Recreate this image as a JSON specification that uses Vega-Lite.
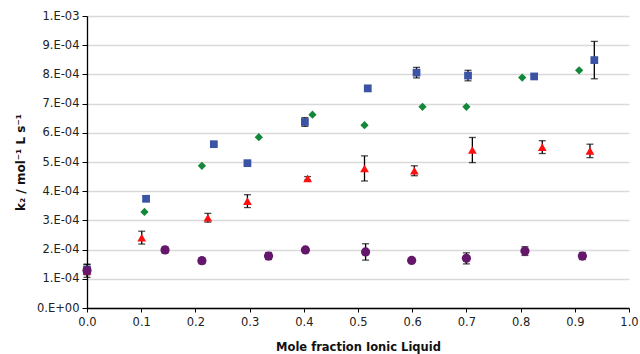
{
  "$schema": "https://vega.github.io/schema/vega-lite/v6.json",
  "width": 542,
  "height": 292,
  "autosize": "none",
  "padding": {"left": 87, "top": 16, "right": 11, "bottom": 46},
  "background": "white",
  "config": {
    "view": {"stroke": null},
    "font": "DejaVu Sans",
    "axis": {"labelFont": "DejaVu Sans", "titleFont": "DejaVu Sans", "labelColor": "#222222", "titleColor": "#111111"}
  },
  "data": {
    "values": [
      {"series": "A", "x": 0.0, "y": 0.000132, "err": 0.000018},
      {"series": "A", "x": 0.109, "y": 0.000374, "err": 0.000008},
      {"series": "A", "x": 0.234, "y": 0.000561, "err": 0.000005},
      {"series": "A", "x": 0.296, "y": 0.000496, "err": 0.000005},
      {"series": "A", "x": 0.402, "y": 0.000637, "err": 0.000015},
      {"series": "A", "x": 0.518, "y": 0.000752, "err": 0.000010},
      {"series": "A", "x": 0.608, "y": 0.000806, "err": 0.000018},
      {"series": "A", "x": 0.703, "y": 0.000796, "err": 0.000018},
      {"series": "A", "x": 0.825, "y": 0.000793, "err": 0.000005},
      {"series": "A", "x": 0.936, "y": 0.000849, "err": 0.000064},
      {"series": "B", "x": 0.0, "y": 0.000130, "err": 0.0},
      {"series": "B", "x": 0.106, "y": 0.000329, "err": 0.0},
      {"series": "B", "x": 0.212, "y": 0.000487, "err": 0.0},
      {"series": "B", "x": 0.317, "y": 0.000585, "err": 0.0},
      {"series": "B", "x": 0.416, "y": 0.000662, "err": 0.0},
      {"series": "B", "x": 0.512, "y": 0.000626, "err": 0.0},
      {"series": "B", "x": 0.619, "y": 0.000689, "err": 0.0},
      {"series": "B", "x": 0.700, "y": 0.000689, "err": 0.0},
      {"series": "B", "x": 0.803, "y": 0.000789, "err": 0.0},
      {"series": "B", "x": 0.908, "y": 0.000814, "err": 0.0},
      {"series": "D", "x": 0.0, "y": 0.000128, "err": 0.000010},
      {"series": "D", "x": 0.144, "y": 0.000199, "err": 0.000010},
      {"series": "D", "x": 0.212, "y": 0.000162, "err": 0.000010},
      {"series": "D", "x": 0.335, "y": 0.000178, "err": 0.000012},
      {"series": "D", "x": 0.403, "y": 0.000199, "err": 0.000006},
      {"series": "D", "x": 0.514, "y": 0.000192, "err": 0.000028},
      {"series": "D", "x": 0.599, "y": 0.000163, "err": 0.000004},
      {"series": "D", "x": 0.700, "y": 0.000170, "err": 0.000019},
      {"series": "D", "x": 0.808, "y": 0.000195, "err": 0.000015},
      {"series": "D", "x": 0.914, "y": 0.000178, "err": 0.000012},
      {"series": "C", "x": 0.0, "y": 0.000127, "err": 0.000022},
      {"series": "C", "x": 0.101, "y": 0.000241, "err": 0.000022},
      {"series": "C", "x": 0.223, "y": 0.000309, "err": 0.000015},
      {"series": "C", "x": 0.296, "y": 0.000366, "err": 0.000022},
      {"series": "C", "x": 0.407, "y": 0.000444, "err": 0.000006},
      {"series": "C", "x": 0.512, "y": 0.000478, "err": 0.000043},
      {"series": "C", "x": 0.604, "y": 0.000470, "err": 0.000017},
      {"series": "C", "x": 0.711, "y": 0.000541, "err": 0.000043},
      {"series": "C", "x": 0.840, "y": 0.000551, "err": 0.000022},
      {"series": "C", "x": 0.928, "y": 0.000538, "err": 0.000023}
    ]
  },
  "encoding": {
    "x": {
      "field": "x", "type": "quantitative",
      "scale": {"domain": [0, 1], "nice": false, "zero": false},
      "axis": {
        "title": "Mole fraction Ionic Liquid",
        "titleFontSize": 11.5, "titleFontWeight": "bold", "titlePadding": 14,
        "values": [0, 0.1, 0.2, 0.3, 0.4, 0.5, 0.6, 0.7, 0.8, 0.9, 1.0],
        "format": ".1f", "labelFontSize": 11.5, "labelPadding": 4,
        "grid": false, "domainColor": "#000000", "domainWidth": 1.3,
        "tickColor": "#000000", "tickSize": 4, "labelFlush": false
      }
    },
    "y": {
      "field": "y", "type": "quantitative",
      "scale": {"domain": [0, 0.001], "nice": false},
      "axis": {
        "title": "k₂ / mol⁻¹ L s⁻¹",
        "titleFontSize": 12, "titleFontWeight": "bold", "titlePadding": 9,
        "values": [0, 0.0001, 0.0002, 0.0003, 0.0004, 0.0005, 0.0006, 0.0007, 0.0008, 0.0009, 0.001],
        "labelExpr": "datum.value == 0 ? '0.E+00' : (round(datum.value*10000) >= 10 ? '1.E-03' : round(datum.value*10000) + '.E-04')",
        "labelFontSize": 11.5, "labelPadding": 3,
        "grid": true, "gridColor": "#d9d9d9", "gridWidth": 1.5,
        "domainColor": "#000000", "domainWidth": 1.3,
        "tickColor": "#000000", "tickSize": 5
      }
    }
  },
  "layer": [
    {
      "transform": [{"filter": "datum.err > 0"}],
      "mark": {"type": "errorbar", "ticks": {"size": 7, "color": "#000000", "thickness": 1.3}, "rule": {"color": "#000000", "strokeWidth": 1.3}},
      "encoding": {
        "y": {"field": "y", "type": "quantitative"},
        "yError": {"field": "err"}
      }
    },
    {
      "mark": {"type": "point", "filled": true, "opacity": 1},
      "encoding": {
        "color": {
          "field": "series", "type": "nominal", "legend": null,
          "scale": {"domain": ["A", "B", "C", "D"], "range": ["#3b53a5", "#13883a", "#ff1010", "#64176b"]}
        },
        "shape": {
          "field": "series", "type": "nominal", "legend": null,
          "scale": {"domain": ["A", "B", "C", "D"], "range": ["square", "diamond", "triangle-up", "circle"]}
        },
        "size": {
          "field": "series", "type": "nominal", "legend": null,
          "scale": {"domain": ["A", "B", "C", "D"], "range": [60, 85, 115, 45]}
        },
        "order": {"field": "series"}
      }
    }
  ]
}
